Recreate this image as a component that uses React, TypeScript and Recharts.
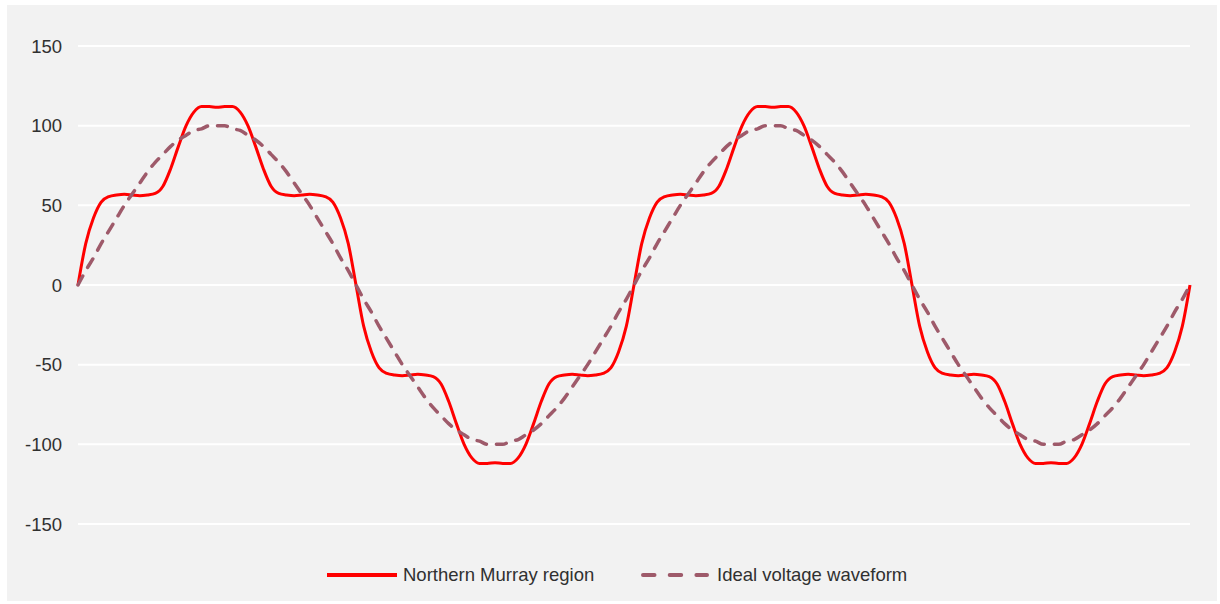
import { CartesianGrid, Line, LineChart, XAxis, YAxis } from "recharts";

// phase angle in degrees, two full cycles
const phase = [
  0, 5, 10, 15, 20, 25, 30, 35, 40, 45, 50, 55, 60, 65, 70, 75, 80, 85, 90, 95, 100, 105, 110, 115,
  120, 125, 130, 135, 140, 145, 150, 155, 160, 165, 170, 175, 180, 185, 190, 195, 200, 205, 210, 215,
  220, 225, 230, 235, 240, 245, 250, 255, 260, 265, 270, 275, 280, 285, 290, 295, 300, 305, 310, 315,
  320, 325, 330, 335, 340, 345, 350, 355, 360, 365, 370, 375, 380, 385, 390, 395, 400, 405, 410, 415,
  420, 425, 430, 435, 440, 445, 450, 455, 460, 465, 470, 475, 480, 485, 490, 495, 500, 505, 510, 515,
  520, 525, 530, 535, 540, 545, 550, 555, 560, 565, 570, 575, 580, 585, 590, 595, 600, 605, 610, 615,
  620, 625, 630, 635, 640, 645, 650, 655, 660, 665, 670, 675, 680, 685, 690, 695, 700, 705, 710, 715, 720,
];

const northernMurray = [
  0, 26, 42, 52, 55.5, 56.5, 57, 56.5, 56, 56.5, 57.5, 62, 73, 87, 100, 108.5, 112, 112,
  111.5, 112, 112, 108.5, 100, 87, 73, 62, 57.5, 56.5, 56, 56.5, 57, 56.5, 55.5, 52, 42, 26,
  0, -26, -42, -52, -55.5, -56.5, -57, -56.5, -56, -56.5, -57.5, -62, -73, -87, -100, -108.5, -112, -112,
  -111.5, -112, -112, -108.5, -100, -87, -73, -62, -57.5, -56.5, -56, -56.5, -57, -56.5, -55.5, -52, -42, -26,
  0, 26, 42, 52, 55.5, 56.5, 57, 56.5, 56, 56.5, 57.5, 62, 73, 87, 100, 108.5, 112, 112,
  111.5, 112, 112, 108.5, 100, 87, 73, 62, 57.5, 56.5, 56, 56.5, 57, 56.5, 55.5, 52, 42, 26,
  0, -26, -42, -52, -55.5, -56.5, -57, -56.5, -56, -56.5, -57.5, -62, -73, -87, -100, -108.5, -112, -112,
  -111.5, -112, -112, -108.5, -100, -87, -73, -62, -57.5, -56.5, -56, -56.5, -57, -56.5, -55.5, -52, -42, -26,
  0,
];

const idealVoltage = [
  0, 9, 17, 26, 34, 42, 50, 57, 64, 71, 77, 82, 87, 91, 94, 97, 98, 100,
  100, 100, 98, 97, 94, 91, 87, 82, 77, 71, 64, 57, 50, 42, 34, 26, 17, 9,
  0, -9, -17, -26, -34, -42, -50, -57, -64, -71, -77, -82, -87, -91, -94, -97, -98, -100,
  -100, -100, -98, -97, -94, -91, -87, -82, -77, -71, -64, -57, -50, -42, -34, -26, -17, -9,
  0, 9, 17, 26, 34, 42, 50, 57, 64, 71, 77, 82, 87, 91, 94, 97, 98, 100,
  100, 100, 98, 97, 94, 91, 87, 82, 77, 71, 64, 57, 50, 42, 34, 26, 17, 9,
  0, -9, -17, -26, -34, -42, -50, -57, -64, -71, -77, -82, -87, -91, -94, -97, -98, -100,
  -100, -100, -98, -97, -94, -91, -87, -82, -77, -71, -64, -57, -50, -42, -34, -26, -17, -9,
  0,
];

const yTicks = [-150, -100, -50, 0, 50, 100, 150];

const data = phase.map((deg, i) => ({
  deg,
  northern: northernMurray[i],
  ideal: idealVoltage[i],
}));

const RED = "#ff0000";
const MAUVE = "#9e5a6a";
const TEXT = "#303030";
const FONT = "'Liberation Sans', Arial, sans-serif";

function App() {
  return (
    <div style={{ position: "relative", width: 1220, height: 604, background: "#fff" }}>
      <style>{`body{margin:0}`}</style>
      <div
        style={{
          position: "absolute",
          left: 7,
          top: 5,
          width: 1210,
          height: 596,
          background: "#f2f2f2",
          fontFamily: FONT,
        }}
      >
        <LineChart
          width={1210}
          height={596}
          data={data}
          margin={{ top: 41, right: 27, bottom: 77, left: 11 }}
        >
          <CartesianGrid vertical={false} stroke="#ffffff" strokeWidth={2} />
          <XAxis dataKey="deg" type="number" domain={[0, 720]} hide />
          <YAxis
            domain={[-150, 150]}
            ticks={yTicks}
            axisLine={false}
            tickLine={false}
            tickMargin={10}
            width={60}
            tick={{ fill: TEXT, fontSize: 18.5, fontFamily: FONT }}
          />
          <Line
            type="monotone"
            dataKey="northern"
            stroke={RED}
            strokeWidth={3}
            dot={false}
            isAnimationActive={false}
          />
          <Line
            type="monotone"
            dataKey="ideal"
            stroke={MAUVE}
            strokeWidth={3.5}
            strokeDasharray="10 10"
            strokeLinecap="round"
            dot={false}
            isAnimationActive={false}
          />
        </LineChart>
        {/* legend */}
        <svg
          style={{ position: "absolute", left: 0, top: 0 }}
          width={1210}
          height={596}
          pointerEvents="none"
        >
          <line x1={320} y1={570} x2={390} y2={570} stroke={RED} strokeWidth={4} />
          <text x={396} y={576} fontSize={18.5} fill={TEXT} fontFamily={FONT}>
            Northern Murray region
          </text>
          <line
            x1={636}
            y1={570}
            x2={700}
            y2={570}
            stroke={MAUVE}
            strokeWidth={4}
            strokeLinecap="round"
            strokeDasharray="11.5 15.2"
          />
          <text x={710} y={576} fontSize={18.5} fill={TEXT} fontFamily={FONT}>
            Ideal voltage waveform
          </text>
        </svg>
      </div>
    </div>
  );
}

export default App;
